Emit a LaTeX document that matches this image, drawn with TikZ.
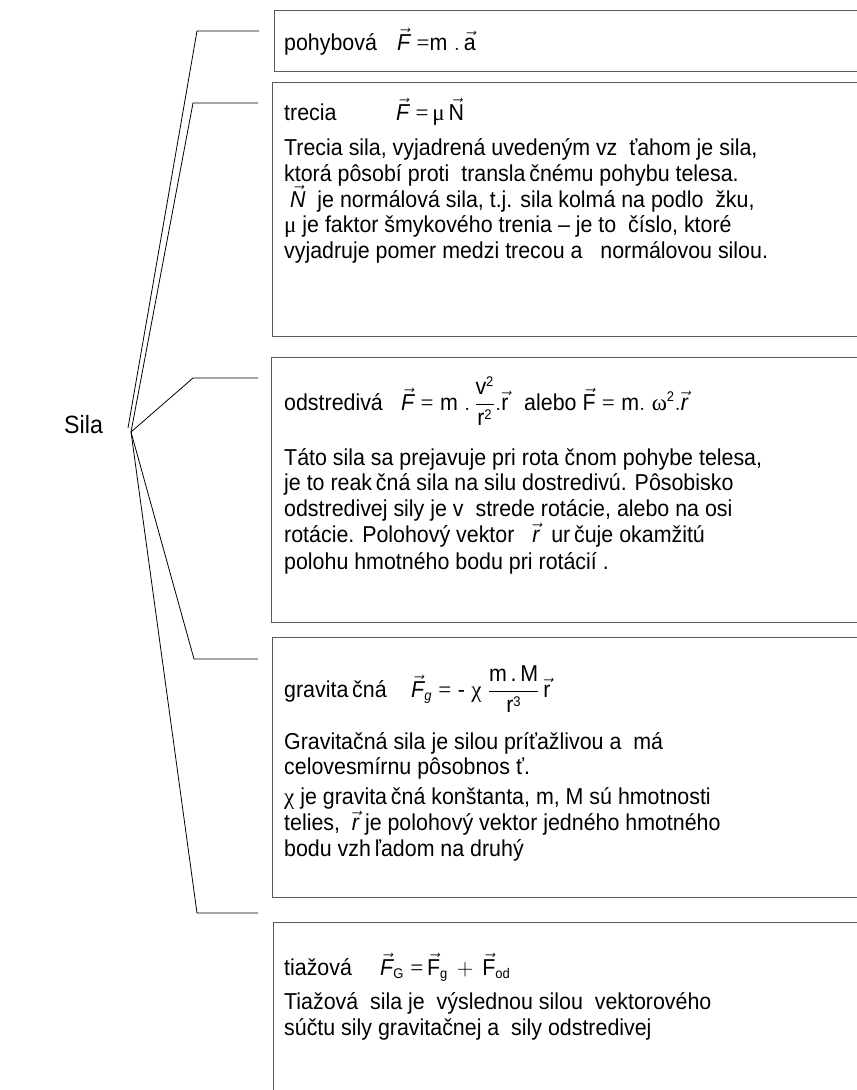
\RequirePackage{fix-cm}
\documentclass[tikz,border=0pt]{standalone}
\usepackage{amsmath}
\usepackage{fontspec}
\setmainfont{Liberation Sans}[FakeStretch=0.93]
\newfontfamily\gk{Liberation Serif}
\newcommand\tx[1]{\hbox{#1}}
\newcommand\sml{\fontsize{14}{14}\selectfont}
\definecolor{boxgray}{HTML}{5A5A5A}
\tikzset{
  box/.style={draw=boxgray, line width=1.3pt, anchor=north west, inner sep=0pt, minimum width=620pt},
  con/.style={draw=black, line width=0.8pt},
  txt/.style={anchor=base west, inner sep=0pt, font=\fontsize{23}{26}\selectfont},
}
\begin{document}
\begin{tikzpicture}[x=1pt,y=-1pt]
\useasboundingbox (0,0) rectangle (857,1090);
% boxes
\node[box, minimum height=61.5pt] (b1) at (274,9.5) {};
\node[box, minimum height=254pt] (b2) at (272,82) {};
\node[box, minimum height=264.5pt] (b3) at (271,357) {};
\node[box, minimum height=259.5pt] (b4) at (272,637) {};
\node[box, minimum height=220pt] (b5) at (273,922) {};
% root
\node[txt, font=\fontsize{25}{28}\selectfont] (sila) at (64,433) {Sila};
% connectors
\coordinate (pa) at (128,428);
\coordinate (pb) at (131,432);
\coordinate (k1) at (197,31);  \coordinate (e1) at (259,31);
\coordinate (k2) at (193,103); \coordinate (e2) at (258,103);
\coordinate (k3) at (193,378); \coordinate (e3) at (258,378);
\coordinate (k4) at (194,659); \coordinate (e4) at (258,659);
\coordinate (k5) at (197,913); \coordinate (e5) at (258,913);
\draw[con] (pa) -- (k1) -- (e1);
\draw[con] (pb) -- (k2) -- (e2);
\draw[con] (pb) -- (k3) -- (e3);
\draw[con] (pb) -- (k4) -- (e4);
\draw[con] (pb) -- (k5) -- (e5);
% box 1
\node[txt] (t1a) at (284,50) {pohybová};
\node[txt] (t1b) at (397,50) {$\vec{\tx{\itshape F}}\;{\tx{\gk =}}\tx{m}\;.\,\vec{\tx{a}}$};
% box 2
\node[txt] (t2a) at (284,120) {trecia};
\node[txt] (t2b) at (396,120) {$\vec{\tx{\itshape F}}\;{\tx{\gk =}}\,\tx{\gk μ}\,\vec{\tx{N}}$};
\node[txt] (t2c) at (284,155) {Trecia sila, vyjadrená uvedeným vz\ \ ťahom je sila,};
\node[txt] (t2d) at (284,181) {ktorá pôsobí proti\ \ transla\,čnému pohybu telesa.};
\node[txt] (t2e) at (284,207) {\ $\vec{\tx{\itshape N}}$\ \ je normálová sila, t.j. sila kolmá na podlo\ \ žku,};
\node[txt] (t2f) at (284,232) {{\gk μ} je faktor šmykového trenia – je to\ \ číslo, ktoré};
\node[txt] (t2g) at (284,258) {vyjadruje pomer medzi trecou a\ \ \ normálovou silou.};
% box 3
\node[txt] (t3a) at (284,410) {odstredivá};
\node[txt] (t3b) at (401,410) {$\vec{\tx{\itshape F}}\;{\tx{\gk =}}\;\tx{m}\;.\,\dfrac{\tx{v}^{\tx{\sml 2}}}{\tx{r}^{\tx{\sml 2}}}.\vec{\tx{r}}$\ \ \,alebo $\vec{\tx{F}}\;{\tx{\gk =}}\;\tx{m}.\;\tx{\gk ω}^{\tx{\sml 2}}.\vec{\tx{\itshape r}}$};
\node[txt] (t3c) at (284,465) {Táto sila sa prejavuje pri rota\ čnom pohybe telesa,};
\node[txt] (t3d) at (284,490) {je to reak\,čná sila na silu dostredivú. Pôsobisko};
\node[txt] (t3e) at (284,516) {odstredivej sily je v\ \ strede rotácie, alebo na osi};
\node[txt] (t3f) at (284,542) {rotácie. Polohový vektor\ \ \ $\vec{\tx{\itshape r}}$\ \ ur\,čuje okamžitú};
\node[txt] (t3g) at (284,569) {polohu hmotného bodu pri rotácií .};
% box 4
\node[txt] (t4a) at (284,697) {gravita\,čná};
\node[txt] (t4b) at (411,697) {$\vec{\tx{\itshape F}}_{\tx{\sml\itshape g}}\;{\tx{\gk =}}\;\tx{-}\;\tx{\gk χ}\;\dfrac{\tx{m\,.\,M}}{\tx{r}^{\tx{\sml 3}}}\,\vec{\tx{r}}$};
\node[txt] (t4c) at (284,749) {Gravitačná sila je silou príťažlivou a\ \ má};
\node[txt] (t4d) at (284,774) {celovesmírnu pôsobnos\ ť.};
\node[txt] (t4e) at (284,804) {{\gk χ} je gravita\,čná konštanta, m, M sú hmotnosti};
\node[txt] (t4f) at (284,830) {telies,\ \ $\vec{\tx{\itshape r}}$ je polohový vektor jedného hmotného};
\node[txt] (t4g) at (284,856) {bodu vzh\,ľadom na druhý};
% box 5
\node[txt] (t5a) at (284,975) {tiažová};
\node[txt] (t5b) at (380,975) {$\vec{\tx{\itshape F}}_{\tx{\sml G}}\;{\tx{\gk =}}\,\vec{\tx{F}}_{\tx{\sml g}}\,+\,\vec{\tx{F}}_{\tx{\sml od}}$};
\node[txt] (t5c) at (284,1009) {Tiažová\ \ sila je\ \ výslednou silou\ \ vektorového};
\node[txt] (t5d) at (284,1035) {súčtu sily gravitačnej a\ \ sily odstredivej};
\end{tikzpicture}
\end{document}
